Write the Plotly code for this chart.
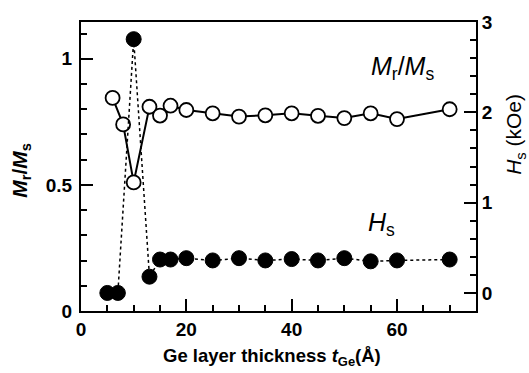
import plotly.graph_objects as go

# Remanence ratio Mr/Ms (left axis)
mr_x = [6, 8, 10, 13, 15, 17, 20, 25, 30, 35, 40, 45, 50, 55, 60, 70]
mr_y = [0.845, 0.74, 0.51, 0.81, 0.775, 0.814, 0.797, 0.784, 0.771, 0.776,
        0.784, 0.774, 0.765, 0.784, 0.761, 0.80]

# Saturation field Hs in kOe (right axis)
hs_x = [5, 7, 10, 13, 15, 17, 20, 25, 30, 35, 40, 45, 50, 55, 60, 70]
hs_y = [0.0, 0.0, 2.81, 0.18, 0.37, 0.37, 0.385, 0.36, 0.385, 0.36,
        0.375, 0.36, 0.385, 0.35, 0.36, 0.37]

FONT = "Liberation Sans, Arial, sans-serif"

fig = go.Figure()
fig.add_trace(go.Scatter(
    x=hs_x, y=hs_y, yaxis="y2", mode="lines+markers",
    line=dict(color="black", width=1.5, dash="dot"),
    marker=dict(size=15, color="black", line=dict(color="black", width=1)),
    showlegend=False))
fig.add_trace(go.Scatter(
    x=mr_x, y=mr_y, mode="lines+markers",
    line=dict(color="black", width=2),
    marker=dict(size=14, color="white", line=dict(color="black", width=1.8)),
    showlegend=False))

tickfont = dict(family=FONT, size=19, color="black", weight="bold")

fig.update_layout(
    width=529, height=373,
    margin=dict(l=81, r=53, t=15, b=62),
    plot_bgcolor="white", paper_bgcolor="white",
    xaxis=dict(range=[0, 75], dtick=20, tick0=0, ticks="inside", ticklen=12,
               tickwidth=1.5, tickcolor="black", showline=True, linecolor="black",
               linewidth=2, mirror=True, showgrid=False, zeroline=False,
               tickfont=tickfont,
               minor=dict(dtick=5, tick0=0, ticks="inside", ticklen=6,
                          tickwidth=1.5, tickcolor="black")),
    yaxis=dict(range=[0, 1.146], dtick=0.5, tick0=0, ticks="inside", ticklen=12,
               tickwidth=1.5, tickcolor="black", showline=True, linecolor="black",
               linewidth=2, showgrid=False, zeroline=False, tickfont=tickfont,
               tickformat="~g", ticklabelstandoff=3,
               minor=dict(dtick=0.1, tick0=0, ticks="inside", ticklen=6,
                          tickwidth=1.5, tickcolor="black")),
    yaxis2=dict(range=[-0.2, 3.0], dtick=1, tick0=0, ticks="inside", ticklen=12,
                tickwidth=1.5, tickcolor="black", showline=True, linecolor="black",
                linewidth=2, showgrid=False, zeroline=False, tickfont=tickfont,
                overlaying="y", side="right",
                minor=dict(dtick=0.2, tick0=0, ticks="inside", ticklen=6,
                           tickwidth=1.5, tickcolor="black")),
    annotations=[
        dict(text="<i>M</i><sub>r</sub>/<i>M</i><sub>s</sub>", xref="paper", yref="paper",
             x=-0.154, y=0.486, xanchor="center", yanchor="middle",
             textangle=-90, showarrow=False,
             font=dict(family=FONT, size=21, color="black", weight="bold")),
        dict(text="<i>H</i><sub>s</sub> (kOe)", xref="paper", yref="paper",
             x=1.099, y=0.61, xanchor="center", yanchor="middle",
             textangle=-90, showarrow=False,
             font=dict(family=FONT, size=21, color="black")),
        dict(text="Ge layer thickness <i>t</i><sub>Ge</sub>(Å)", xref="paper", yref="paper",
             x=0.484, y=-0.11, xanchor="center", yanchor="top", showarrow=False,
             font=dict(family=FONT, size=18.5, color="black", weight="bold")),
        dict(text="<i>M</i><sub>r</sub>/<i>M</i><sub>s</sub>", xref="x", yref="paper",
             x=61, y=0.84, xanchor="center", yanchor="middle", showarrow=False,
             font=dict(family=FONT, size=25, color="black")),
        dict(text="<i>H</i><sub>s</sub>", xref="x", yref="paper",
             x=57, y=0.30, xanchor="center", yanchor="middle", showarrow=False,
             font=dict(family=FONT, size=25, color="black")),
    ],
)

fig.write_html("out.html")
